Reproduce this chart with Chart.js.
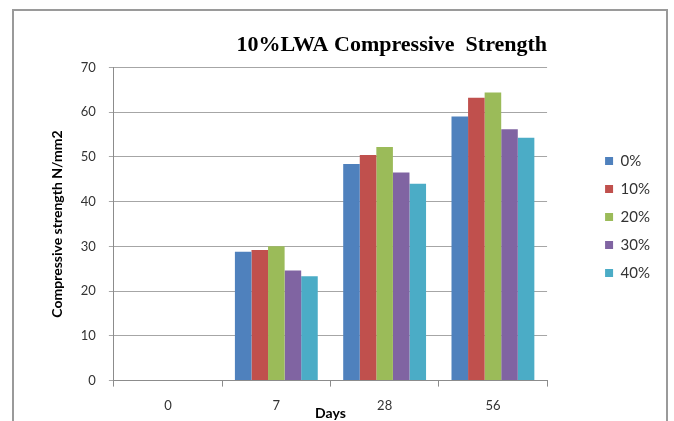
<!DOCTYPE html>
<html>
<head>
<meta charset="utf-8">
<script src="https://cdn.jsdelivr.net/npm/chart.js@4/dist/chart.umd.min.js"></script>
<style>
  html, body { margin: 0; padding: 0; background: #ffffff; }
  #wrap { width: 674px; height: 421px; position: relative; }
</style>
</head>
<body>
<div id="wrap"><canvas id="chart" width="674" height="421"></canvas></div>
<script>
// Curing age (days) on the x axis
const days = ['0', '7', '28', '56'];

// Compressive strength (N/mm2) for each LWA replacement level
const series0 = [0, 28.8, 48.4, 59.0];
const series10 = [0, 29.2, 50.4, 63.2];
const series20 = [0, 30.0, 52.2, 64.4];
const series30 = [0, 24.6, 46.5, 56.2];
const series40 = [0, 23.3, 44.0, 54.3];

const seriesNames = ['0%', '10%', '20%', '30%', '40%'];
const seriesValues = [series0, series10, series20, series30, series40];
const seriesColors = ['#4F81BD', '#C0504D', '#9BBB59', '#8064A2', '#4BACC6'];

const chartTitle = '10%LWA Compressive  Strength';
const yTitle = 'Compressive strength N/mm2';
const xTitle = 'Days';

const sans = 'Lato, "Liberation Sans", Arial, sans-serif';

// Gray outer frame around the whole chart
const framePlugin = {
  id: 'frame',
  beforeDraw(chart) {
    const ctx = chart.ctx;
    ctx.save();
    ctx.strokeStyle = '#9a9a9a';
    ctx.lineWidth = 2;
    ctx.strokeRect(13, 10, 654, 430);
    ctx.restore();
  }
};

new Chart(document.getElementById('chart'), {
  type: 'bar',
  data: {
    labels: days,
    datasets: seriesNames.map((name, i) => ({
      label: name,
      data: seriesValues[i],
      backgroundColor: seriesColors[i],
      borderWidth: 0,
      categoryPercentage: 0.765,
      barPercentage: 1.0
    }))
  },
  options: {
    responsive: false,
    animation: false,
    layout: { padding: { left: 45, right: 14, top: 13, bottom: 0 } },
    plugins: {
      title: {
        display: true,
        text: chartTitle,
        align: 'end',
        fullSize: false,
        color: '#000000',
        font: { family: '"Liberation Serif", "Times New Roman", serif', size: 22, weight: 'bold' },
        padding: { top: 19, bottom: 9 }
      },
      legend: {
        display: true,
        position: 'right',
        align: 'center',
        labels: {
          boxWidth: 8,
          boxHeight: 8,
          padding: 13,
          color: '#333333',
          font: { family: sans, size: 15 }
        }
      },
      tooltip: { enabled: false }
    },
    scales: {
      x: {
        offset: true,
        grid: {
          display: true,
          offset: true,
          drawOnChartArea: false,
          drawTicks: true,
          tickLength: 6,
          color: '#8c8c8c'
        },
        border: { display: true, color: '#8c8c8c', width: 1 },
        ticks: {
          color: '#333333',
          padding: 11,
          font: { family: sans, size: 13 }
        },
        title: {
          display: true,
          text: xTitle,
          color: '#000000',
          font: { family: sans, size: 14, weight: 'bold' },
          padding: { top: -19, bottom: -1 }
        }
      },
      y: {
        min: 0,
        max: 70,
        ticks: {
          stepSize: 10,
          color: '#333333',
          padding: 13,
          font: { family: sans, size: 13 }
        },
        grid: {
          color: '#a6a6a6',
          tickLength: 5,
          drawTicks: true
        },
        border: { display: true, color: '#8c8c8c', width: 1 },
        title: {
          display: true,
          text: yTitle,
          color: '#000000',
          font: { family: sans, size: 14, weight: 'bold' },
          padding: { top: 4, bottom: 2 }
        }
      },
      // empty right-side axis that keeps the gap between the plot and the legend
      gap: {
        type: 'linear',
        position: 'right',
        display: true,
        grid: { display: false },
        border: { display: false },
        ticks: { display: false },
        afterFit(scale) { scale.width = 45; }
      }
    }
  },
  plugins: [framePlugin]
});
</script>
</body>
</html>
